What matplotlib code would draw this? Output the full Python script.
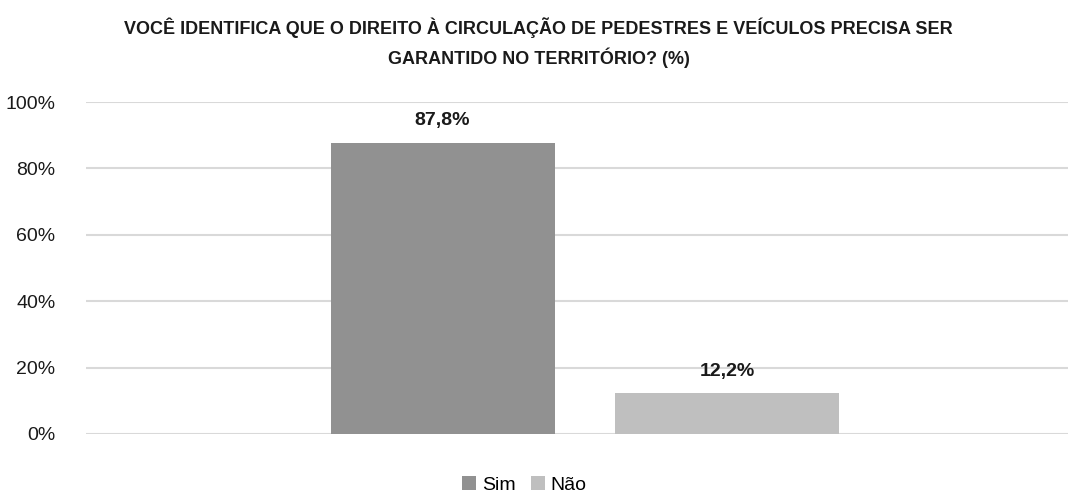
import numpy as np
import matplotlib
matplotlib.use("Agg")
import matplotlib.pyplot as plt

plt.rcParams['font.family'] = ['Liberation Sans Narrow', 'Liberation Sans', 'DejaVu Sans']

titulo = "VOCÊ IDENTIFICA QUE O DIREITO À CIRCULAÇÃO DE PEDESTRES E VEÍCULOS PRECISA SER\nGARANTIDO NO TERRITÓRIO? (%)"
series = ["Sim", "Não"]
valores = [0.878, 0.122]
rotulos = ["87,8%", "12,2%"]
cores = ["#919191", "#bfbfbf"]

fig = plt.figure(figsize=(10.77, 4.94), dpi=100)
ax = fig.add_axes([0.0799, 0.1215, 0.912, 0.672])

largura = 0.228
desloc = [-0.145, 0.145]
for i in range(len(series)):
    ax.bar(0.508 + desloc[i], valores[i], width=largura, color=cores[i], label=series[i], zorder=3)
    ax.text(0.508 + desloc[i], valores[i] + 0.04, rotulos[i], ha='center', va='bottom',
            fontsize=14, fontweight='bold', color='#1a1a1a')

ax.set_xlim(0, 1)
ax.set_ylim(0, 1)
ax.set_yticks(np.arange(0, 1.01, 0.2))
ax.set_yticklabels([f"{int(v*100)}%" for v in np.arange(0, 1.01, 0.2)], fontsize=14, color='#1a1a1a')
ax.set_xticks([])
ax.tick_params(axis='y', length=0, pad=22)
ax.grid(axis='y', color='#d9d9d9', linewidth=1.5, zorder=0)
for s in ax.spines.values():
    s.set_visible(False)

fig.suptitle(titulo, x=0.5, y=0.965, fontsize=13, fontweight='bold', color='#1a1a1a', linespacing=1.55)

fig.legend(loc='lower center', bbox_to_anchor=(0.487, -0.035), ncol=2, frameon=False,
           fontsize=14, handlelength=0.7, handleheight=0.7, handletextpad=0.3, columnspacing=0.8)

fig.savefig("out.png", dpi=100)
